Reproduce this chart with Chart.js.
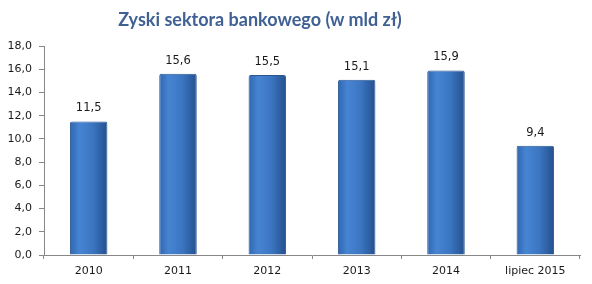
<!DOCTYPE html>
<html><head><meta charset="utf-8">
<script src="https://cdn.jsdelivr.net/npm/chart.js@4"></script>
<style>
html,body{margin:0;padding:0;background:#fff;}
#wrap{position:relative;width:592px;height:284px;}
#title{position:absolute;left:0;width:520px;top:8px;text-align:center;font-family:Lato,"DejaVu Sans",sans-serif;font-weight:bold;font-size:18px;color:#3f6193;}
canvas{position:absolute;left:0;top:0;}
</style></head><body>
<div id="wrap"><canvas id="c" width="592" height="284"></canvas><div id="title">Zyski sektora bankowego (w mld zł)</div></div>
<script>
const categories = ["2010","2011","2012","2013","2014","lipiec 2015"];
const values = [11.5, 15.6, 15.5, 15.1, 15.9, 9.4];
const yTicks = [0,2,4,6,8,10,12,14,16,18];
const FONT = '"DejaVu Sans",sans-serif';
function fmt(v){return v.toFixed(1).replace('.',',');}
function barFill(ctx){
  const chart = ctx.chart;
  const xs = chart.scales.x;
  if(!xs || !chart.chartArea) return '#3b74c0';
  const cx = xs.getPixelForValue(ctx.dataIndex);
  const half = (xs.width/categories.length)*0.42/2;
  const g = chart.ctx.createLinearGradient(cx-half,0,cx+half,0);
  g.addColorStop(0,'#2f66b0');
  g.addColorStop(0.25,'#4684d2');
  g.addColorStop(0.6,'#3c76c2');
  g.addColorStop(1,'#24508e');
  return g;
}
const labelPlugin = {
  id:'vals',
  afterDatasetsDraw(chart){
    const c = chart.ctx;
    const meta = chart.getDatasetMeta(0);
    c.save();
    c.font = '11.5px '+FONT;
    c.fillStyle = '#1a1a1a';
    c.textAlign='center';
    c.textBaseline='middle';
    meta.data.forEach((el,i)=>{
      c.fillText(fmt(values[i]), el.x, el.y-13);
    });
    c.restore();
  }
};
new Chart(document.getElementById('c'),{
  type:'bar',
  data:{labels:categories,datasets:[{data:values,backgroundColor:barFill,borderColor:'#2a5592',borderWidth:1,categoryPercentage:1,barPercentage:0.42,borderRadius:{topLeft:2,topRight:2}}]},
  options:{
    responsive:false,animation:false,
    layout:{padding:{left:0,right:12,top:46,bottom:0}},
    plugins:{legend:{display:false},tooltip:{enabled:false},title:{display:false}},
    scales:{
      y:{min:0,max:18,
        afterBuildTicks(s){s.ticks=yTicks.map(v=>({value:v}));},
        afterFit(s){s.width=44;},
        ticks:{callback:v=>fmt(v),font:{family:FONT,size:11},color:'#1a1a1a',padding:7},
        grid:{drawOnChartArea:false,drawTicks:true,tickLength:5,color:'#888'},
        border:{color:'#888'}},
      x:{
        afterFit(s){s.height=29;},
        ticks:{font:{family:FONT,size:11},color:'#1a1a1a',padding:6},
        grid:{offset:true,drawOnChartArea:false,drawTicks:true,tickLength:4,color:'#888'},
        border:{color:'#888'}}
    }
  },
  plugins:[labelPlugin]
});
</script></body></html>
